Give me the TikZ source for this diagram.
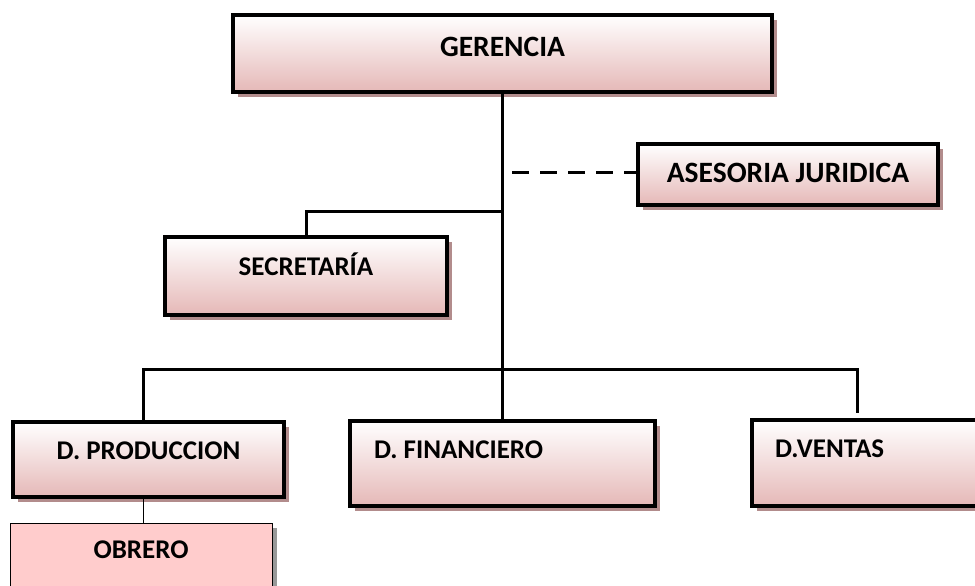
\documentclass[tikz,border=0pt]{standalone}
\usepackage{fontspec}
\setmainfont{Carlito}
\usetikzlibrary{shadows}

\definecolor{rosa}{RGB}{229,184,183}
\definecolor{sombra}{RGB}{178,140,140}
\definecolor{rosaobrero}{RGB}{255,204,204}

\begin{document}
\frenchspacing
\begin{tikzpicture}[x=1pt,y=-1pt,
	cargo/.style={draw=black,line width=3.5pt,top color=white,bottom color=rosa,
		drop shadow={shadow xshift=5pt,shadow yshift=-5pt,fill=sombra,opacity=1},
		inner sep=0pt,font=\bfseries\fontsize{27}{32}\selectfont,text height=17pt},
	grande/.style={font=\bfseries\fontsize{29.5}{34}\selectfont},
	obrerobox/.style={draw=black,line width=1pt,fill=rosaobrero,
		drop shadow={shadow xshift=5pt,shadow yshift=-5pt,fill=black!40,opacity=1},
		inner sep=0pt,font=\bfseries\fontsize{27}{32}\selectfont,text height=17pt},
	linea/.style={draw=black,line width=3pt}]

	\useasboundingbox (0,0) rectangle (975,586);
	\clip (0,0) rectangle (975,586);

	\node[cargo,grande,minimum width=539pt,minimum height=77pt,text depth=11pt] (ger) at (502.5,53.5) {GERENCIA};
	\node[cargo,grande,minimum width=300pt,minimum height=61pt,text depth=2pt] (ase) at (788,174.5) {ASESORIA JURIDICA};
	\node[cargo,minimum width=282pt,minimum height=78pt,text depth=18pt] (sec) at (306,276) {SECRETARÍA};
	\node[cargo,minimum width=271pt,minimum height=75pt,text depth=17pt] (prod) at (148.5,459.5) {D. PRODUCCION};
	\node[cargo,align=flush left,inner xsep=24pt,text width=257pt,minimum height=85pt,text depth=27pt] (fin) at (502.5,463.5) {D. FINANCIERO};
	\node[cargo,align=flush left,inner xsep=23pt,text width=202pt,minimum height=86pt,text depth=28pt] (ven) at (876,463) {D.VENTAS};
	\node[obrerobox,minimum width=262pt,minimum height=67pt,text depth=13pt] (obr) at (141,556.5) {OBRERO};

	\coordinate (busL) at (143,369);
	\coordinate (busR) at (857,369);
	\coordinate (venTop) at (857,413);
	\coordinate (secJ) at (503,211);
	\coordinate (dashL) at (512,172);

	\draw[linea] (ger.south) -- (fin.north);
	\draw[linea] (busL |- prod.north) -- (busL) -- (busR) -- (venTop);
	\draw[linea] (secJ) -| (sec.north);
	\draw[linea,dash pattern=on 17pt off 11pt] (dashL) -- (dashL -| ase.west);
	\draw[draw=black,line width=1pt] (busL |- prod.south) -- (busL |- obr.north);

\end{tikzpicture}
\end{document}
